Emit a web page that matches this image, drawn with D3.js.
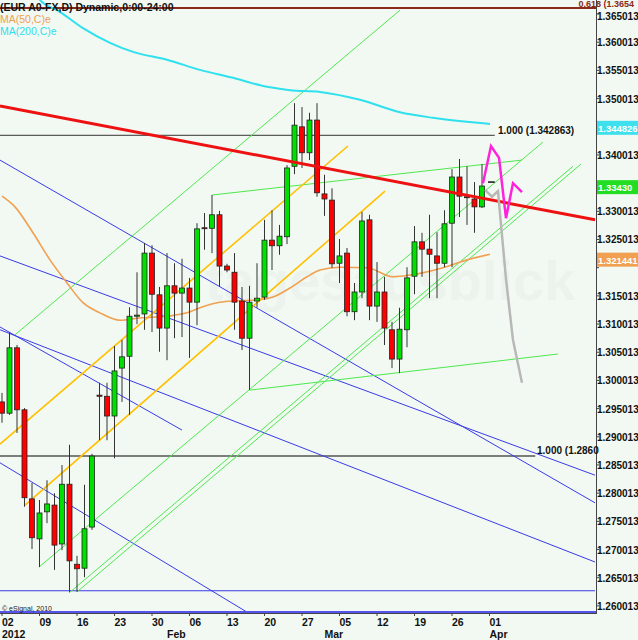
<!DOCTYPE html>
<html>
<head>
<meta charset="utf-8">
<script src="https://cdn.jsdelivr.net/npm/d3@7"></script>
<style>
body{margin:0;background:#f2f9f2;}
text{font-family:"Liberation Sans",Arial,sans-serif;}
</style>
</head>
<body>
<div id="chart"></div>
<script>
// -----------------------------------------
// DATA
// -----------------------------------------
// daily candles from Jan 02 2012, index = trading day
var opens  = [1.2962,1.2942,1.3058,1.2948,1.2790,1.2719,1.2767,1.2779,1.2710,1.2816,1.2674,1.2667,1.2740,
              1.2974,1.2972,1.2937,1.3022,1.3043,1.3114,1.3118,1.3226,1.3152,1.3093,1.3168,1.3155,1.3164,
              1.3139,1.3271,1.3270,1.3294,1.3203,1.3192,1.3141,1.3075,1.3141,1.3148,1.3249,1.3239,1.3255,
              1.3380,1.3450,1.3404,1.3462,1.3331,1.3320,1.3208,1.3226,1.3122,1.3157,1.3285,1.3132,1.3157,
              1.3090,1.3038,1.3090,1.3185,1.3246,1.3233,1.3221,1.3208,1.3279,1.3361,1.3326,1.3322,1.3308];
var highs  = [1.2978,1.3086,1.3063,1.2951,1.2818,1.2788,1.2823,1.2800,1.2850,1.2886,1.2689,1.2815,1.2870,
              1.2996,1.2996,1.3061,1.3072,1.3130,1.3192,1.3244,1.3240,1.3166,1.3226,1.3208,1.3216,1.3182,
              1.3279,1.3297,1.3329,1.3301,1.3207,1.3226,1.3166,1.3168,1.3208,1.3285,1.3302,1.3276,1.3382,
              1.3492,1.3485,1.3475,1.3492,1.3365,1.3341,1.3251,1.3235,1.3173,1.3299,1.3294,1.3210,1.3184,
              1.3104,1.3129,1.3201,1.3274,1.3262,1.3294,1.3263,1.3302,1.3375,1.3393,1.3380,1.3352,1.3384];
var lows   = [1.2925,1.2939,1.2907,1.2776,1.2701,1.2669,1.2747,1.2664,1.2699,1.2625,1.2625,1.2651,1.2735,
              1.2894,1.2894,1.2862,1.2962,1.2939,1.3100,1.3090,1.3086,1.3051,1.3036,1.3075,1.3077,1.3040,
              1.3098,1.3232,1.3226,1.3166,1.3192,1.3090,1.3054,1.2983,1.3129,1.3143,1.3196,1.3223,1.3242,
              1.3366,1.3377,1.3391,1.3326,1.3292,1.3200,1.3173,1.3114,1.3107,1.3146,1.3107,1.3104,1.3063,
              1.3022,1.3013,1.3059,1.3153,1.3184,1.3146,1.3146,1.3201,1.3201,1.3290,1.3276,1.3262,1.3306];
var closes = [1.2942,1.3058,1.2948,1.2792,1.2721,1.2765,1.2781,1.2708,1.2816,1.2680,1.2666,1.2737,1.2866,
              1.2972,1.2937,1.3017,1.3042,1.3114,1.3116,1.3226,1.3153,1.3093,1.3168,1.3155,1.3164,1.3139,
              1.3269,1.3270,1.3294,1.3203,1.3196,1.3139,1.3075,1.3139,1.3146,1.3249,1.3239,1.3256,1.3377,
              1.3453,1.3404,1.3462,1.3333,1.3322,1.3207,1.3221,1.3122,1.3157,1.3283,1.3132,1.3157,1.3093,
              1.3038,1.3091,1.3182,1.3246,1.3233,1.3224,1.3208,1.3278,1.3361,1.3327,1.3325,1.3308,1.3345];

// moving averages, sampled along the curves
var ma50Idx = [0,1.73,4.13,6.4,8.67,10.8,13.07,15.73,18.4,22,24.67,26.4,28.67,30.8,34,36.13,38.4,40.67,42.4,45.07,48.67,52.13,54.4,58.8,62,65.07];
var ma50Val = [1.3327,1.3308,1.3262,1.3214,1.3173,1.3138,1.3120,1.3107,1.3111,1.3114,1.3120,1.3129,1.3138,1.3141,1.3143,1.3148,1.3164,1.3184,1.3196,1.3201,1.3200,1.3184,1.3187,1.3200,1.3214,1.3224];
var ma200Idx = [3.5,5.07,7.73,10.8,14.4,17.47,22,26.4,30.8,35.33,38.4,42.4,47.73,53.07,57.47,65.07];
var ma200Val = [1.3705,1.3675,1.3654,1.3625,1.3599,1.3583,1.3569,1.3551,1.3537,1.3521,1.3515,1.3512,1.3498,1.3476,1.3466,1.3455];

// drawn trend lines: [index1, price1, index2, price2]
var redLine   = [-0.27,1.3487,79.07,1.3285];
var blueLines = [[-0.27,1.3391,79.07,1.2783],[-0.27,1.3221,79.07,1.2832],[-0.27,1.3095,24,1.2912],
                 [-0.27,1.3090,79.07,1.2678],[-0.27,1.2854,32.8,1.2588],[-0.27,1.2627,79.07,1.2627]];
var greenLines = [[1.73,1.3081,53.07,1.3657],[4.93,1.2669,72.13,1.3423],[8.93,1.2623,76.13,1.3380],
                  [10,1.2625,77.2,1.3384],[33.07,1.2983,74.13,1.3047],[28,1.3329,69.33,1.3391]];
var orangeLines = [[-0.27,1.2887,46.13,1.3416],[3.07,1.2779,51.07,1.3336]];

// projections
var pinkIdx = [64.13,65.2,66.27,67.2,68.13,69.33];
var pinkVal = [1.3350,1.3416,1.3395,1.3288,1.3350,1.3334];
var greyIdx = [64.4,65.33,66.13,67.2,68.13,69.33];
var greyVal = [1.3338,1.3326,1.3336,1.3180,1.3072,1.2996];

// axis labels
var weekIdx    = [0,5,10,15,20,25,30,35,40,45,50,55,60,65];
var weekLabels = ["02","09","16","23","30","06","13","20","27","05","12","19","26","01"];
var monthIdx    = [0,22,43,65];
var monthLabels = ["2012","Feb","Mar","Apr"];
var priceTicks = d3.range(0,22).map(function(k){ return 1.260013 + k*0.005; });
var lastValues = [1.344826, 1.3343, 1.321441];
var lastLabels = ["1.344826", "1.33430", "1.321441"];

// -----------------------------------------
// FORMAT
// -----------------------------------------
var W = 638, H = 640;
var plotR = 596, plotB = 613;
var candleW = 5;
var axFont = "10px";

var svg = d3.select("#chart").append("svg").attr("width", W).attr("height", H);

var x = d3.scaleLinear().domain([0, 64]).range([2, 482]);
var y = d3.scaleLinear().domain([1.3675, 1.3675 - 640*0.0001774]).range([0, 640]);

svg.append("rect").attr("width", W).attr("height", H).attr("fill", "#f2f9f2");

svg.append("clipPath").attr("id", "clip").append("rect")
  .attr("x", 0).attr("y", 0).attr("width", plotR).attr("height", plotB);
var plot = svg.append("g").attr("clip-path", "url(#clip)");

// watermark
plot.append("text").attr("x", 205).attr("y", 300).text("tagesausblick")
  .style("font-size", "56px").style("font-weight", "bold").attr("fill", "#000").attr("opacity", 0.02);

// horizontal levels
plot.append("line").attr("x1", 0).attr("x2", plotR).attr("y1", y(1.3661)).attr("y2", y(1.3661))
  .attr("stroke", "#8b2a1a").attr("stroke-width", 2);
plot.append("line").attr("x1", 0).attr("x2", x(65.7)).attr("y1", y(1.3435)).attr("y2", y(1.3435))
  .attr("stroke", "#333").attr("stroke-width", 1);
plot.append("line").attr("x1", 0).attr("x2", x(71.1)).attr("y1", y(1.2866)).attr("y2", y(1.2866))
  .attr("stroke", "#555").attr("stroke-width", 1.5);

function seg(g, d, color, w){
  g.append("line")
    .attr("x1", x(d[0])).attr("y1", y(d[1])).attr("x2", x(d[2])).attr("y2", y(d[3]))
    .attr("stroke", color).attr("stroke-width", w);
}
blueLines.forEach(function(d){ seg(plot, d, "#3a3ae8", 1); });
greenLines.forEach(function(d){ seg(plot, d, "#4ee84e", 1); });
orangeLines.forEach(function(d){ seg(plot, d, "#ffc000", 1.6); });

var line = d3.line().x(function(d){ return x(d[0]); }).y(function(d){ return y(d[1]); });
plot.append("path").datum(d3.zip(ma200Idx, ma200Val)).attr("d", line.curve(d3.curveMonotoneX))
  .attr("fill", "none").attr("stroke", "#2fe0ee").attr("stroke-width", 2);
plot.append("path").datum(d3.zip(ma50Idx, ma50Val)).attr("d", line.curve(d3.curveMonotoneX))
  .attr("fill", "none").attr("stroke", "#f0a050").attr("stroke-width", 1.6);

// candles
var cand = plot.selectAll(".c").data(d3.range(opens.length)).enter().append("g");
cand.append("line")
  .attr("x1", function(i){ return x(i); }).attr("x2", function(i){ return x(i); })
  .attr("y1", function(i){ return y(highs[i]); }).attr("y2", function(i){ return y(lows[i]); })
  .attr("stroke", "#333").attr("stroke-width", 1);
cand.append("rect")
  .attr("x", function(i){ return x(i) - candleW/2; })
  .attr("y", function(i){ return y(Math.max(opens[i], closes[i])); })
  .attr("width", candleW)
  .attr("height", function(i){ return Math.max(1, Math.abs(y(opens[i]) - y(closes[i]))); })
  .attr("fill", function(i){ return closes[i] >= opens[i] ? "#00e000" : "#ff0000"; })
  .attr("stroke", "#222").attr("stroke-width", 0.8);

seg(plot, redLine, "#ee1111", 3);

plot.append("path").datum(d3.zip(greyIdx, greyVal)).attr("d", line.curve(d3.curveLinear))
  .attr("fill", "none").attr("stroke", "#b8b8b8").attr("stroke-width", 2.5);
plot.append("path").datum(d3.zip(pinkIdx, pinkVal)).attr("d", line)
  .attr("fill", "none").attr("stroke", "#ff22dd").attr("stroke-width", 2.5);
plot.append("line").attr("x1", x(64.8)).attr("x2", x(65.7)).attr("y1", y(1.3352)).attr("y2", y(1.3352))
  .attr("stroke", "#111").attr("stroke-width", 1.5);

// bottom blue border
svg.append("line").attr("x1", 0).attr("x2", plotR).attr("y1", plotB - 1).attr("y2", plotB - 1)
  .attr("stroke", "#5555ee").attr("stroke-width", 2);
svg.append("line").attr("x1", 0).attr("x2", plotR).attr("y1", plotB + 0.5).attr("y2", plotB + 0.5)
  .attr("stroke", "#444").attr("stroke-width", 1);
svg.append("line").attr("x1", plotR + 0.5).attr("x2", plotR + 0.5).attr("y1", 0).attr("y2", plotB + 1)
  .attr("stroke", "#444").attr("stroke-width", 1);

// labels on plot
svg.append("text").attr("x", 0).attr("y", 11).text("(EUR A0-FX,D) Dynamic,0:00-24:00")
  .style("font-size", "10.5px").style("font-weight", "bold").attr("fill", "#111");
svg.append("text").attr("x", 0).attr("y", 23).text("MA(50,C)e")
  .style("font-size", "10.5px").attr("fill", "#f0a050");
svg.append("text").attr("x", 0).attr("y", 35).text("MA(200,C)e")
  .style("font-size", "10.5px").attr("fill", "#2fe0ee");
svg.append("text").attr("x", 634).attr("y", 7).attr("text-anchor", "end").text("0.618 (1.3654")
  .style("font-size", "9px").style("font-weight", "bold").attr("fill", "#8b2a1a");
svg.append("text").attr("x", 498).attr("y", y(1.3435) - 1).text("1.000 (1.342863)")
  .style("font-size", "10px").style("font-weight", "bold").attr("fill", "#111");
svg.append("text").attr("x", 537).attr("y", y(1.2866) - 2).text("1.000 (1.2860")
  .style("font-size", "10px").style("font-weight", "bold").attr("fill", "#111");
svg.append("text").attr("x", 2).attr("y", 611).text("© eSignal, 2010")
  .style("font-size", "7px").attr("fill", "#222");

// price axis (labels hidden under the last-value boxes are skipped)
priceTicks.forEach(function(p){
  svg.append("line").attr("x1", plotR).attr("x2", plotR + 3).attr("y1", y(p)).attr("y2", y(p)).attr("stroke", "#444");
  var hidden = lastValues.some(function(v){ return Math.abs(y(v) - y(p)) < 9; });
  if (hidden) return;
  svg.append("text").attr("x", plotR + 1).text(p.toFixed(6))
    .attr("y", p > 1.364 ? y(p) + 6 : y(p) + 4)
    .style("font-size", axFont).style("font-weight", "bold").attr("fill", "#111");
});
var boxColors = ["#3fe0ee", "#22dd22", "#f0a050"];
lastValues.forEach(function(v, k){
  svg.append("rect").attr("x", plotR + 1).attr("y", y(v) - 7).attr("width", 41).attr("height", 14).attr("fill", boxColors[k]);
  svg.append("text").attr("x", plotR + 2).attr("y", y(v) + 4).text(lastLabels[k])
    .style("font-size", "9.5px").style("font-weight", "bold").attr("fill", "#fff");
});

// date axis
weekIdx.forEach(function(d, k){
  svg.append("line").attr("x1", x(d)).attr("x2", x(d)).attr("y1", plotB).attr("y2", plotB + 3).attr("stroke", "#444");
  svg.append("text").attr("x", x(d)).attr("y", 626).text(weekLabels[k])
    .style("font-size", "10.5px").style("font-weight", "bold").attr("fill", "#111");
});
monthIdx.forEach(function(d, k){
  svg.append("text").attr("x", x(d)).attr("y", 638).text(monthLabels[k])
    .style("font-size", "10.5px").style("font-weight", "bold").attr("fill", "#111");
});
</script>
</body>
</html>
